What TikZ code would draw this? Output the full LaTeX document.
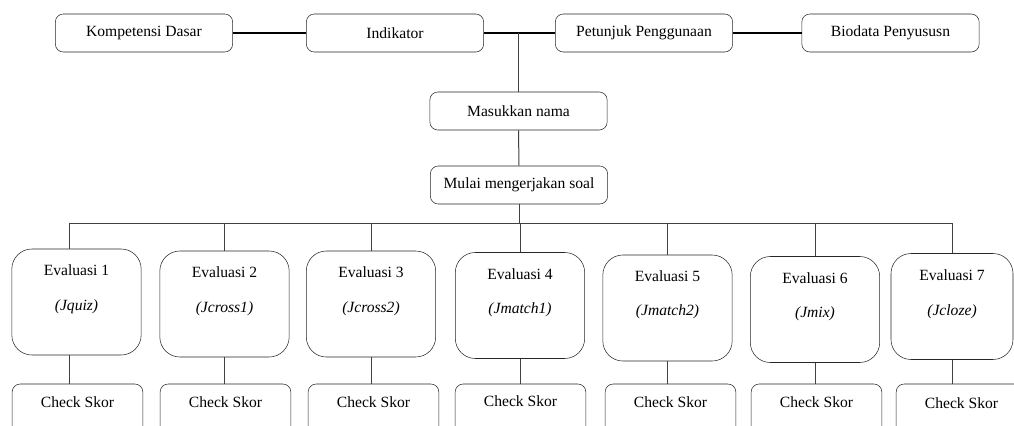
\documentclass[tikz,border=0pt]{standalone}
\usepackage{fontspec}
\setmainfont{Liberation Serif}
\usetikzlibrary{calc}

\begin{document}
\begin{tikzpicture}[x=0.75pt,y=-0.75pt,
  every node/.style={font=\fontsize{11.7}{14}\selectfont},
  kotak/.style={draw=black!85, rounded corners=6pt, minimum width=133pt, minimum height=28.5pt, inner sep=0pt},
  evbox/.style={draw=black!85, rounded corners=15pt, minimum width=97pt, minimum height=79.5pt, inner sep=0pt},
  cekbox/.style={draw=black!85, rounded corners=6pt, minimum width=98pt, minimum height=45pt, inner sep=0pt},
  garis/.style={black!75, line width=0.75pt},
  garisatas/.style={black, line width=1.1pt}]
\clip (0,0) rectangle (1014,425);
\useasboundingbox (0,0) rectangle (1014,425);

%%Top row
\node[kotak] (kd) at (144,33) {Kompetensi Dasar};
\node[kotak] (indikator) at (395,33) {Indikator};
\node[kotak] (petunjuk) at (644,33) {Petunjuk Penggunaan};
\node[kotak] (biodata) at (890.5,33) {Biodata Penyususn};
\draw[garisatas] (kd.east) -- (indikator.west);
\draw[garisatas] (indikator.east) -- (petunjuk.west);
\draw[garisatas] (petunjuk.east) -- (biodata.west);

%%Middle
\node[kotak] (masuk) at (518.5,111) {Masukkan nama};
\node[kotak] (mulai) at (519,185) {Mulai mengerjakan soal};
\draw[garis] (masuk.north |- indikator.east) -- (masuk.north);
\draw[garis] (masuk.south) -- (mulai.north);
\coordinate (bus) at (519,223);
\draw[garis] (mulai.south) -- (bus);

%%Evaluasi
\node[evbox] (ev1) at (76.5,302) {};
\node[evbox] (ev2) at (224.5,304) {};
\node[evbox] (ev3) at (371,304) {};
\node[evbox] (ev4) at (520,305.5) {};
\node[evbox] (ev5) at (667.5,308) {};
\node[evbox] (ev6) at (815,309.5) {};
\node[evbox, minimum width=91.5pt] (ev7) at (952,306.5) {};
\node (evt1) at (76.5,270) {Evaluasi 1};
\node (evt2) at (224.5,272) {Evaluasi 2};
\node (evt3) at (371,272) {Evaluasi 3};
\node (evt4) at (520,274) {Evaluasi 4};
\node (evt5) at (667.5,276) {Evaluasi 5};
\node (evt6) at (815,278) {Evaluasi 6};
\node (evt7) at (952,275) {Evaluasi 7};
\node (evs1) at (76.5,307) {\textit{(Jquiz)}};
\node (evs2) at (224.5,309) {\textit{(Jcross1)}};
\node (evs3) at (371,309) {\textit{(Jcross2)}};
\node (evs4) at (520,310) {\textit{(Jmatch1)}};
\node (evs5) at (667.5,312) {\textit{(Jmatch2)}};
\node (evs6) at (815,314) {\textit{(Jmix)}};
\node (evs7) at (952,312) {\textit{(Jcloze)}};

%%Bus
\coordinate (drop1) at (69,249);
\draw[garis] (drop1 |- bus) -- (ev7.north |- bus);
\draw[garis] (drop1 |- bus) -- (drop1);
\draw[garis] (ev2.north |- bus) -- (ev2.north);
\draw[garis] (ev3.north |- bus) -- (ev3.north);
\draw[garis] (ev4.north |- bus) -- (ev4.north);
\draw[garis] (ev5.north |- bus) -- (ev5.north);
\draw[garis] (ev6.north |- bus) -- (ev6.north);
\draw[garis] (ev7.north |- bus) -- (ev7.north);

%%Check Skor
\node[cekbox] (cek1) at (77.5,414) {};
\node[cekbox] (cek2) at (225.5,414) {};
\node[cekbox] (cek3) at (373.5,414) {};
\node[cekbox] (cek4) at (520.5,414) {};
\node[cekbox] (cek5) at (670.5,414) {};
\node[cekbox] (cek6) at (816.5,414) {};
\node[cekbox] (cek7) at (961.5,414) {};
\node (ckt1) at (77.5,402) {Check Skor};
\node (ckt2) at (225.5,402) {Check Skor};
\node (ckt3) at (373.5,402) {Check Skor};
\node (ckt4) at (520.5,401) {Check Skor};
\node (ckt5) at (670.5,402) {Check Skor};
\node (ckt6) at (816.5,402) {Check Skor};
\node (ckt7) at (961.5,403) {Check Skor};
\coordinate (drop1b) at (69,355);
\draw[garis] (drop1b) -- (drop1b |- cek1.north);
\draw[garis] (ev2.south) -- (ev2.south |- cek2.north);
\draw[garis] (ev3.south) -- (ev3.south |- cek3.north);
\draw[garis] (ev4.south) -- (ev4.south |- cek4.north);
\draw[garis] (ev5.south) -- (ev5.south |- cek5.north);
\draw[garis] (ev6.south) -- (ev6.south |- cek6.north);
\draw[garis] (ev7.south) -- (ev7.south |- cek7.north);
\end{tikzpicture}
\end{document}
